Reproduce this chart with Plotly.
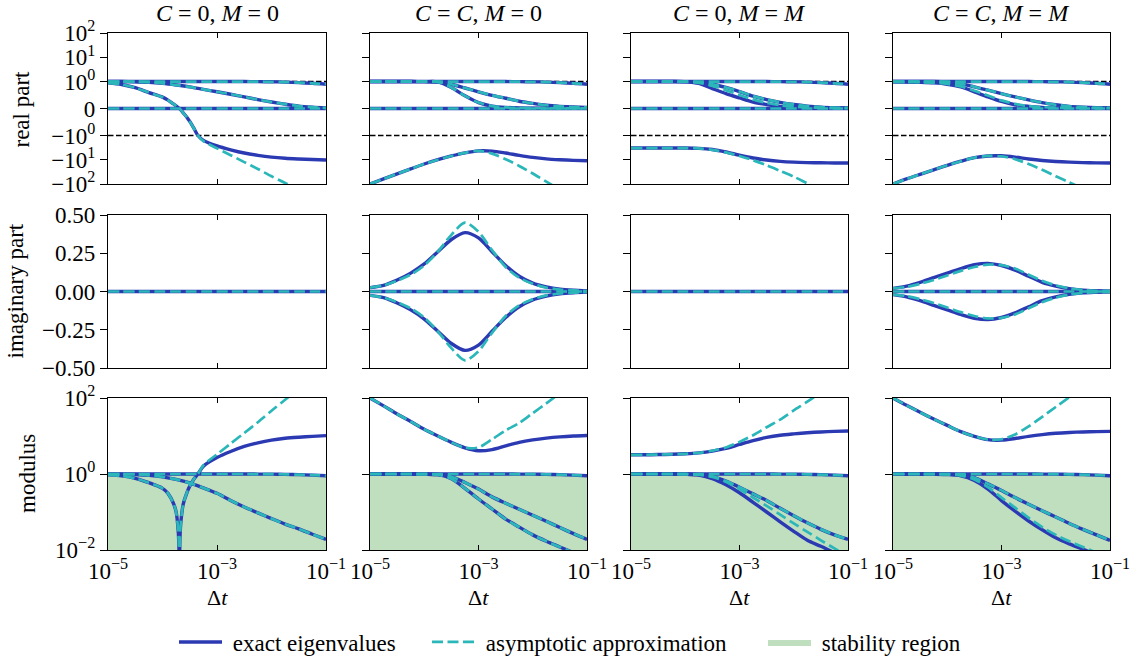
import math
import plotly.graph_objects as go

# ---------------- data ----------------
LOG_DT = [-5.0, -4.75, -4.5, -4.25, -4.0, -3.75, -3.5, -3.25, -3.0, -2.75, -2.5,
          -2.25, -2.0, -1.75, -1.5, -1.25, -1.0]
LOG_DT_C1 = [-5.0, -4.75, -4.5, -4.25, -4.0, -3.9, -3.8, -3.75, -3.72, -3.7, -3.69,
             -3.68, -3.66, -3.62, -3.55, -3.5, -3.42, -3.35, -3.25, -3.0, -2.75,
             -2.5, -2.25, -2.0, -1.75, -1.5, -1.25, -1.0]

COL_TITLES = ["<i>C</i> = 0, <i>M</i> = 0", "<i>C</i> = <i>C</i>, <i>M</i> = 0",
              "<i>C</i> = 0, <i>M</i> = <i>M</i>", "<i>C</i> = <i>C</i>, <i>M</i> = <i>M</i>"]
ROW_TITLES = ["real part", "imaginary part", "modulus"]
LEGEND_NAMES = ["exact eigenvalues", "asymptotic approximation", "stability region"]

REAL_TICKS = [100, 10, 1, 0, -1, -10, -100]
REAL_TICKTEXT = ["10<sup>2</sup>", "10<sup>1</sup>", "10<sup>0</sup>", "0",
                 "\u221210<sup>0</sup>", "\u221210<sup>1</sup>", "\u221210<sup>2</sup>"]
IMAG_TICKS = [0.5, 0.25, 0.0, -0.25, -0.5]
MOD_TICKS = [0.01, 1, 100]
MOD_TICKTEXT = ["10<sup>\u22122</sup>", "10<sup>0</sup>", "10<sup>2</sup>"]
X_TICKS = [1e-5, 1e-3, 1e-1]
X_TICKTEXT = ["10<sup>\u22125</sup>", "10<sup>\u22123</sup>", "10<sup>\u22121</sup>"]
STAB_BOUND = 1.0
STAB_FLOOR = 1e-3
REF_LINES = [1.0, -1.0]

ZERO = [0.0, 0.0, 0.0, 0.0, 0.0, 0.0, 0.0, 0.0, 0.0, 0.0, 0.0, 0.0, 0.0, 0.0, 0.0, 0.0, 0.0]
UNIT_EIG = [1.0, 1.0, 1.0, 1.0, 1.0, 1.0, 1.0, 1.0, 1.0, 1.0, 1.0, 0.995, 0.99, 0.98, 0.96, 0.935, 0.9]

# ---- real parts ----
P1_RE_B = [1.0, 1.0, 0.99, 0.97, 0.93, 0.87, 0.8, 0.71, 0.62, 0.53, 0.43, 0.33, 0.24, 0.16, 0.09, 0.05, 0.02]
P1_RE_C_EX = [0.95, 0.89, 0.77, 0.59, 0.42, 0.31, 0.17, 0.1, 0.045, 0.015, 0.0, -0.02, -0.06, -0.16,
              -0.33, -0.48, -0.75, -1.0, -1.6, -2.7, -3.9, -5.3, -6.6, -7.8, -8.7, -9.3, -9.8, -10.2]
P1_RE_C_AS = [0.95, 0.89, 0.77, 0.59, 0.42, 0.31, 0.17, 0.1, 0.045, 0.015, 0.0, -0.02, -0.06, -0.16,
              -0.33, -0.48, -0.75, -1.0, -1.7, -3.4, -6.5, -12.5, -24, -48, -91, -178, -340, -650]

P2_RE_U = [1.0, 1.0, 1.0, 1.0, 0.995, 0.985, 0.9, 0.76, 0.62, 0.49, 0.38, 0.27, 0.19, 0.12, 0.08, 0.055, 0.04]
P2_RE_L = [1.0, 1.0, 1.0, 1.0, 0.995, 0.99, 0.78, 0.47, 0.22, 0.09, 0.04, 0.02, 0.01, 0.008, 0.006, 0.005, 0.004]
P2_RE_N_EX = [-100, -62, -38, -24, -15, -10, -7, -5.2, -4.3, -4.4, -5.3, -6.6, -8, -9.2, -10, -10.6, -11]
P2_RE_N_AS = [-100, -62, -38, -24, -15, -10, -7, -5.2, -4.3, -5.6, -9.5, -18, -37, -80, -170, -360, -750]

P3_RE_U = [1.0, 1.0, 1.0, 1.0, 0.995, 0.97, 0.9, 0.78, 0.63, 0.46, 0.33, 0.23, 0.15, 0.09, 0.05, 0.03, 0.02]
P3_RE_L_EX = [1.0, 1.0, 1.0, 1.0, 0.99, 0.93, 0.74, 0.55, 0.39, 0.24, 0.15, 0.08, 0.04, 0.02, 0.01, 0.01, 0.01]
P3_RE_L_AS = [1.0, 1.0, 1.0, 1.0, 0.995, 0.95, 0.84, 0.68, 0.5, 0.34, 0.21, 0.12, 0.07, 0.04, 0.02, 0.01, 0.01]
P3_RE_N_EX = [-3.3, -3.3, -3.3, -3.3, -3.3, -3.4, -3.8, -4.8, -6.5, -8.5, -10.3, -11.7, -12.6, -13.1, -13.4, -13.6, -13.7]
P3_RE_N_AS = [-3.3, -3.3, -3.3, -3.3, -3.3, -3.4, -3.9, -5.0, -7.0, -10.5, -17, -29, -50, -95, -180, -340, -650]

P4_RE_U = [1.0, 1.0, 1.0, 1.0, 0.98, 0.92, 0.8, 0.68, 0.55, 0.43, 0.32, 0.22, 0.14, 0.08, 0.05, 0.03, 0.02]
P4_RE_L_EX = [0.99, 0.98, 0.97, 0.95, 0.9, 0.8, 0.62, 0.43, 0.26, 0.14, 0.08, 0.04, 0.02, 0.01, 0.01, 0.01, 0.01]
P4_RE_L_AS = [0.99, 0.98, 0.97, 0.95, 0.91, 0.82, 0.66, 0.48, 0.3, 0.17, 0.09, 0.05, 0.03, 0.02, 0.01, 0.01, 0.01]
P4_RE_N_EX = [-100, -62, -40, -26, -17, -11.5, -8.2, -7.0, -6.9, -7.8, -9.3, -10.7, -11.8, -12.6, -13.1, -13.5, -13.7]
P4_RE_N_AS = [-100, -62, -40, -26, -17, -11.5, -8.2, -7.0, -7.2, -9.5, -15, -26, -48, -85, -160, -320, -640]

# ---- imaginary parts ----
P2_IM_POS_EX = [0.025, 0.04, 0.075, 0.12, 0.18, 0.26, 0.34, 0.385, 0.35, 0.26, 0.17, 0.1, 0.055, 0.03, 0.015, 0.008, 0.004]
P2_IM_NEG_EX = [-0.025, -0.04, -0.075, -0.12, -0.18, -0.26, -0.34, -0.385, -0.35, -0.26, -0.17, -0.1, -0.055, -0.03, -0.015, -0.008, -0.004]
P2_IM_POS_AS = [0.025, 0.04, 0.07, 0.11, 0.17, 0.26, 0.37, 0.45, 0.39, 0.27, 0.16, 0.09, 0.05, 0.025, 0.013, 0.007, 0.003]
P2_IM_NEG_AS = [-0.025, -0.04, -0.07, -0.11, -0.17, -0.26, -0.37, -0.45, -0.39, -0.27, -0.16, -0.09, -0.05, -0.025, -0.013, -0.007, -0.003]

P4_IM_POS_EX = [0.02, 0.035, 0.06, 0.09, 0.12, 0.15, 0.175, 0.184, 0.17, 0.14, 0.1, 0.06, 0.035, 0.018, 0.009, 0.005, 0.002]
P4_IM_NEG_EX = [-0.02, -0.035, -0.06, -0.09, -0.12, -0.15, -0.175, -0.184, -0.17, -0.14, -0.1, -0.06, -0.035, -0.018, -0.009, -0.005, -0.002]
P4_IM_POS_AS = [0.02, 0.03, 0.05, 0.075, 0.105, 0.135, 0.16, 0.176, 0.172, 0.15, 0.11, 0.07, 0.04, 0.02, 0.01, 0.005, 0.002]
P4_IM_NEG_AS = [-0.02, -0.03, -0.05, -0.075, -0.105, -0.135, -0.16, -0.176, -0.172, -0.15, -0.11, -0.07, -0.04, -0.02, -0.01, -0.005, -0.002]

# ---- moduli ----
P1_MOD_B = [1.0, 0.99, 0.97, 0.92, 0.84, 0.72, 0.58, 0.43, 0.31, 0.2, 0.135, 0.095, 0.067, 0.048, 0.036, 0.026, 0.019]
P1_MOD_C_EX = [0.95, 0.89, 0.77, 0.59, 0.42, 0.31, 0.17, 0.1, 0.045, 0.015, 0.001, 0.02, 0.06, 0.16,
               0.33, 0.48, 0.75, 1.0, 1.6, 2.7, 3.9, 5.3, 6.6, 7.8, 8.7, 9.3, 9.8, 10.2]
P1_MOD_C_AS = [0.95, 0.89, 0.77, 0.59, 0.42, 0.31, 0.17, 0.1, 0.045, 0.015, 0.001, 0.02, 0.06, 0.16,
               0.33, 0.48, 0.75, 1.0, 1.7, 3.3, 6.3, 12, 23, 46, 90, 175, 340, 650]

P2_MOD_U = [1.0, 1.0, 1.0, 1.0, 0.99, 0.97, 0.85, 0.6, 0.4, 0.25, 0.17, 0.118, 0.082, 0.057, 0.039, 0.027, 0.019]
P2_MOD_L = [1.0, 1.0, 1.0, 1.0, 0.99, 0.96, 0.75, 0.42, 0.22, 0.12, 0.065, 0.04, 0.025, 0.017, 0.012, 0.0085, 0.006]
P2_MOD_N_EX = [100, 62, 38, 24, 15, 10, 6.8, 4.9, 4.1, 4.4, 5.5, 6.8, 7.9, 8.8, 9.5, 10, 10.3]
P2_MOD_N_AS = [100, 62, 38, 24, 15, 10, 6.8, 4.9, 5.0, 8.2, 14, 22, 40, 72, 135, 260, 500]

P3_MOD_U = [1.0, 1.0, 1.0, 1.0, 0.99, 0.96, 0.87, 0.65, 0.45, 0.3, 0.2, 0.125, 0.08, 0.052, 0.035, 0.025, 0.019]
P3_MOD_L_EX = [1.0, 1.0, 1.0, 1.0, 0.99, 0.94, 0.76, 0.52, 0.32, 0.18, 0.1, 0.055, 0.031, 0.018, 0.0125, 0.0085, 0.006]
P3_MOD_L_AS = [1.0, 1.0, 1.0, 1.0, 0.99, 0.96, 0.84, 0.62, 0.4, 0.24, 0.145, 0.085, 0.05, 0.03, 0.018, 0.011, 0.007]
P3_MOD_N_EX = [3.2, 3.2, 3.25, 3.3, 3.4, 3.6, 4.0, 4.7, 6.0, 7.6, 9.2, 10.5, 11.4, 12.2, 12.8, 13.2, 13.5]
P3_MOD_N_AS = [3.2, 3.2, 3.25, 3.3, 3.4, 3.6, 4.1, 5.0, 7.0, 10.5, 17, 27, 47, 80, 140, 250, 450]

P4_MOD_U = [1.0, 1.0, 1.0, 1.0, 0.99, 0.95, 0.8, 0.55, 0.37, 0.24, 0.16, 0.108, 0.074, 0.05, 0.035, 0.025, 0.018]
P4_MOD_L_EX = [1.0, 1.0, 1.0, 0.99, 0.97, 0.9, 0.68, 0.4, 0.2, 0.105, 0.058, 0.034, 0.021, 0.0145, 0.0105, 0.0075, 0.0055]
P4_MOD_L_AS = [1.0, 1.0, 1.0, 0.99, 0.97, 0.91, 0.72, 0.45, 0.24, 0.13, 0.07, 0.04, 0.025, 0.017, 0.012, 0.0085, 0.006]
P4_MOD_N_EX = [100, 64, 42, 28, 19, 13, 9.8, 8.0, 7.8, 8.6, 9.8, 10.9, 11.8, 12.4, 12.8, 13.0, 13.2]
P4_MOD_N_AS = [100, 64, 42, 28, 19, 13, 9.8, 8.0, 8.2, 11, 18, 32, 58, 105, 190, 350, 650]

# panel contents: (row, col) -> (exact curves, asymptotic curves), each (log dt grid, values)
G, GC = LOG_DT, LOG_DT_C1
PANELS = {
    (0, 0): ([(G, UNIT_EIG), (G, ZERO), (G, P1_RE_B), (GC, P1_RE_C_EX)],
             [(G, UNIT_EIG), (G, ZERO), (G, P1_RE_B), (GC, P1_RE_C_AS)]),
    (0, 1): ([(G, UNIT_EIG), (G, ZERO), (G, P2_RE_U), (G, P2_RE_L), (G, P2_RE_N_EX)],
             [(G, UNIT_EIG), (G, ZERO), (G, P2_RE_U), (G, P2_RE_L), (G, P2_RE_N_AS)]),
    (0, 2): ([(G, UNIT_EIG), (G, ZERO), (G, P3_RE_U), (G, P3_RE_L_EX), (G, P3_RE_N_EX)],
             [(G, UNIT_EIG), (G, ZERO), (G, P3_RE_U), (G, P3_RE_L_AS), (G, P3_RE_N_AS)]),
    (0, 3): ([(G, UNIT_EIG), (G, ZERO), (G, P4_RE_U), (G, P4_RE_L_EX), (G, P4_RE_N_EX)],
             [(G, UNIT_EIG), (G, ZERO), (G, P4_RE_U), (G, P4_RE_L_AS), (G, P4_RE_N_AS)]),
    (1, 0): ([(G, ZERO)], [(G, ZERO)]),
    (1, 1): ([(G, ZERO), (G, P2_IM_POS_EX), (G, P2_IM_NEG_EX)],
             [(G, ZERO), (G, P2_IM_POS_AS), (G, P2_IM_NEG_AS)]),
    (1, 2): ([(G, ZERO)], [(G, ZERO)]),
    (1, 3): ([(G, ZERO), (G, P4_IM_POS_EX), (G, P4_IM_NEG_EX)],
             [(G, ZERO), (G, P4_IM_POS_AS), (G, P4_IM_NEG_AS)]),
    (2, 0): ([(G, UNIT_EIG), (G, P1_MOD_B), (GC, P1_MOD_C_EX)],
             [(G, UNIT_EIG), (G, P1_MOD_B), (GC, P1_MOD_C_AS)]),
    (2, 1): ([(G, UNIT_EIG), (G, P2_MOD_U), (G, P2_MOD_L), (G, P2_MOD_N_EX)],
             [(G, UNIT_EIG), (G, P2_MOD_U), (G, P2_MOD_L), (G, P2_MOD_N_AS)]),
    (2, 2): ([(G, UNIT_EIG), (G, P3_MOD_U), (G, P3_MOD_L_EX), (G, P3_MOD_N_EX)],
             [(G, UNIT_EIG), (G, P3_MOD_U), (G, P3_MOD_L_AS), (G, P3_MOD_N_AS)]),
    (2, 3): ([(G, UNIT_EIG), (G, P4_MOD_U), (G, P4_MOD_L_EX), (G, P4_MOD_N_EX)],
             [(G, UNIT_EIG), (G, P4_MOD_U), (G, P4_MOD_L_AS), (G, P4_MOD_N_AS)]),
}

# ---------------- style / layout ----------------
W, H = 1145, 662
COL_PX = [(108, 326), (370, 587), (631, 848), (893, 1110)]
ROW_PX = [(33, 184), (215, 368), (398, 550)]
LEGEND_X_PX = [174, 427, 763]
LEGEND_Y_PX = 642
XTITLE_Y_PX = 597
FONT = "Liberation Serif"
FS = 22
FS_TICK = 23
FS_LEG = 23
C_EXACT = "#2b3ab3"
C_ASYM = "#2bb7b9"
C_STAB = "rgba(0,128,0,0.25)"
LINTHRESH_SCALE = 1.0 / (1.0 - 1.0 / 10.0)   # matplotlib symlog, linthresh=1, linscale=1


def symlog(v):
    a = abs(v)
    if a <= 1.0:
        return v * LINTHRESH_SCALE
    return math.copysign(LINTHRESH_SCALE + math.log10(a), v)


def to_dt(grid):
    return [10.0 ** g for g in grid]


fig = go.Figure()
shown = {"exact": False, "asym": False, "stab": False}
LEG_PAD = "\u2005"

for (r, c), (exact, asym) in PANELS.items():
    idx = r * 4 + c + 1
    xa = "x" if idx == 1 else f"x{idx}"
    ya = "y" if idx == 1 else f"y{idx}"
    tf = symlog if r == 0 else (lambda v: v)

    if r == 2:
        x0, x1 = 10.0 ** LOG_DT[0], 10.0 ** LOG_DT[-1]
        fig.add_trace(go.Scatter(
            x=[x0, x1, x1, x0, x0], y=[STAB_FLOOR, STAB_FLOOR, STAB_BOUND, STAB_BOUND, STAB_FLOOR],
            fill="toself", fillcolor=C_STAB, mode="lines", line=dict(width=0, color=C_STAB),
            name=LEG_PAD + LEGEND_NAMES[2], legend="legend3", showlegend=not shown["stab"],
            hoverinfo="skip", xaxis=xa, yaxis=ya))
        shown["stab"] = True
    if r == 0:
        for ref in REF_LINES:
            fig.add_trace(go.Scatter(
                x=[10.0 ** LOG_DT[0], 10.0 ** LOG_DT[-1]], y=[tf(ref), tf(ref)], mode="lines",
                line=dict(color="black", width=1.4, dash="5.5px,2.5px"), showlegend=False,
                hoverinfo="skip", xaxis=xa, yaxis=ya))

    for grid, vals in exact:
        fig.add_trace(go.Scatter(
            x=to_dt(grid), y=[tf(v) for v in vals], mode="lines",
            line=dict(color=C_EXACT, width=3.4, shape="spline", smoothing=0.8),
            name=LEG_PAD + LEGEND_NAMES[0], legend="legend", showlegend=not shown["exact"],
            xaxis=xa, yaxis=ya))
        shown["exact"] = True
    for grid, vals in asym:
        fig.add_trace(go.Scatter(
            x=to_dt(grid), y=[tf(v) for v in vals], mode="lines",
            line=dict(color=C_ASYM, width=2.7, dash="11px,4.5px", shape="spline", smoothing=0.8),
            name=LEG_PAD + LEGEND_NAMES[1], legend="legend2", showlegend=not shown["asym"],
            xaxis=xa, yaxis=ya))
        shown["asym"] = True

axis_common = dict(showline=True, linecolor="black", linewidth=1.4, showgrid=False,
                   zeroline=False, tickcolor="black", tickwidth=1.4, automargin=False,
                   tickfont=dict(family=FONT, size=FS_TICK, color="black"))

layout_axes = {}
for r in range(3):
    for c in range(4):
        idx = r * 4 + c + 1
        xd = [COL_PX[c][0] / W, COL_PX[c][1] / W]
        yd = [1 - ROW_PX[r][1] / H, 1 - ROW_PX[r][0] / H]
        xk = "xaxis" if idx == 1 else f"xaxis{idx}"
        yk = "yaxis" if idx == 1 else f"yaxis{idx}"
        layout_axes[xk] = dict(axis_common, domain=xd, anchor="y" if idx == 1 else f"y{idx}",
                               type="log", range=[LOG_DT[0], LOG_DT[-1]],
                               tickvals=X_TICKS, ticktext=X_TICKTEXT,
                               showticklabels=(r == 2), ticks="inside", ticklen=5,
                               mirror="ticks")
        ydict = dict(axis_common, domain=yd, anchor="x" if idx == 1 else f"x{idx}",
                     ticks="outside", ticklen=7, mirror=True, showticklabels=(c == 0))
        if r == 0:
            lim = LINTHRESH_SCALE + 2.0
            ydict.update(range=[-lim, lim], tickvals=[symlog(v) for v in REAL_TICKS],
                         ticktext=REAL_TICKTEXT)
        elif r == 1:
            ydict.update(range=[-0.5, 0.5], tickvals=IMAG_TICKS, tickformat=".2f")
        else:
            ydict.update(type="log", range=[-2, 2], tickvals=MOD_TICKS, ticktext=MOD_TICKTEXT)
        layout_axes[yk] = ydict

annotations = []
for c in range(4):
    xc = (COL_PX[c][0] + COL_PX[c][1]) / 2 / W
    annotations.append(dict(text=COL_TITLES[c], x=xc, y=1 - 13 / H, xref="paper", yref="paper",
                            showarrow=False, xanchor="center", yanchor="middle",
                            font=dict(family=FONT, size=24, color="black")))
    annotations.append(dict(text="\u0394<i>t</i>", x=xc, y=1 - XTITLE_Y_PX / H, xref="paper",
                            yref="paper", showarrow=False, xanchor="center", yanchor="middle",
                            font=dict(family=FONT, size=FS, color="black")))
ROW_TITLE_X = [21, 15, 27]
for r in range(3):
    yc = 1 - (ROW_PX[r][0] + ROW_PX[r][1]) / 2 / H
    annotations.append(dict(text=ROW_TITLES[r], x=ROW_TITLE_X[r] / W, y=yc, xref="paper",
                            yref="paper", showarrow=False, textangle=-90, xanchor="center",
                            yanchor="middle", font=dict(family=FONT, size=23, color="black")))

legend_common = dict(orientation="h", yanchor="middle", y=1 - LEGEND_Y_PX / H, xanchor="left",
                     font=dict(family=FONT, size=FS_LEG, color="black"), bgcolor="rgba(0,0,0,0)",
                     itemwidth=43)

fig.update_layout(
    width=W, height=H, margin=dict(l=0, r=0, t=0, b=0, autoexpand=False),
    paper_bgcolor="white", plot_bgcolor="white",
    font=dict(family=FONT, size=FS, color="black"),
    annotations=annotations,
    legend=dict(legend_common, x=LEGEND_X_PX[0] / W),
    legend2=dict(legend_common, x=LEGEND_X_PX[1] / W),
    legend3=dict(legend_common, x=LEGEND_X_PX[2] / W),
    **layout_axes,
)

fig.write_html("out.html")
